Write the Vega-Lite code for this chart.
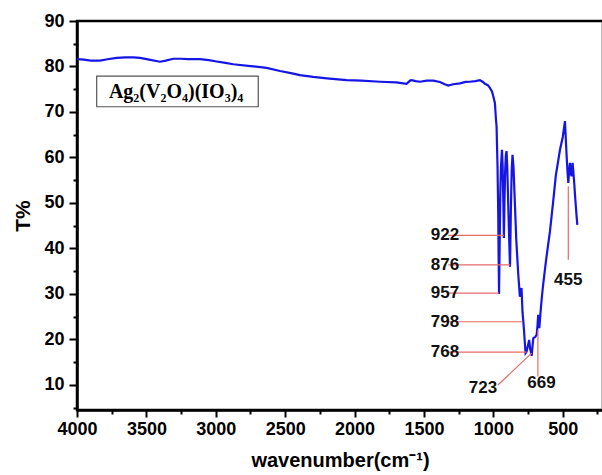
{
  "$schema": "https://vega.github.io/schema/vega-lite/v6.json",
  "width": 526,
  "height": 389,
  "autosize": {"type": "none"},
  "padding": {"left": 77, "top": 21, "right": 0, "bottom": 65},
  "background": "white",
  "config": {
    "view": {"stroke": "black", "strokeWidth": 2.5},
    "axis": {
      "labelFont": "Liberation Sans", "labelFontWeight": "bold", "labelFontSize": 18, "labelColor": "black",
      "titleFont": "Liberation Sans", "titleFontWeight": "bold", "titleColor": "black",
      "domainColor": "black", "domainWidth": 2.5, "tickColor": "black", "tickWidth": 2, "grid": false
    }
  },
  "datasets": {
    "spectrum": [
      {"wn": 4000, "t": 81.6}, {"wn": 3950, "t": 81.5}, {"wn": 3900, "t": 81.3}, {"wn": 3834, "t": 81.3},
      {"wn": 3780, "t": 81.6}, {"wn": 3714, "t": 81.9}, {"wn": 3650, "t": 82.0}, {"wn": 3594, "t": 82.0},
      {"wn": 3546, "t": 81.9}, {"wn": 3480, "t": 81.5}, {"wn": 3402, "t": 81.05}, {"wn": 3360, "t": 81.3},
      {"wn": 3306, "t": 81.7}, {"wn": 3250, "t": 81.7}, {"wn": 3200, "t": 81.6}, {"wn": 3114, "t": 81.6},
      {"wn": 3050, "t": 81.4}, {"wn": 2994, "t": 81.1}, {"wn": 2930, "t": 80.8}, {"wn": 2874, "t": 80.5},
      {"wn": 2750, "t": 80.1}, {"wn": 2634, "t": 79.7}, {"wn": 2537, "t": 79.0}, {"wn": 2450, "t": 78.5},
      {"wn": 2394, "t": 78.1}, {"wn": 2298, "t": 77.7}, {"wn": 2200, "t": 77.4}, {"wn": 2057, "t": 77.0},
      {"wn": 1950, "t": 76.9}, {"wn": 1817, "t": 76.65}, {"wn": 1700, "t": 76.5}, {"wn": 1625, "t": 76.2},
      {"wn": 1600, "t": 76.9}, {"wn": 1589, "t": 77.0}, {"wn": 1560, "t": 76.8}, {"wn": 1529, "t": 76.65}, {"wn": 1480, "t": 76.9},
      {"wn": 1433, "t": 76.9}, {"wn": 1385, "t": 76.6}, {"wn": 1350, "t": 76.1}, {"wn": 1325, "t": 75.8},
      {"wn": 1290, "t": 76.1}, {"wn": 1241, "t": 76.3}, {"wn": 1200, "t": 76.6}, {"wn": 1169, "t": 76.65},
      {"wn": 1130, "t": 76.8}, {"wn": 1097, "t": 77.0}, {"wn": 1075, "t": 76.6}, {"wn": 1061, "t": 76.2},
      {"wn": 1040, "t": 75.9}, {"wn": 1025, "t": 75.3}, {"wn": 1010, "t": 74.5}, {"wn": 1001, "t": 73.5},
      {"wn": 989, "t": 72.0}, {"wn": 981, "t": 68.3}, {"wn": 977, "t": 66.9}, {"wn": 970, "t": 58.0},
      {"wn": 965, "t": 48.0}, {"wn": 962, "t": 38.0}, {"wn": 959, "t": 30.0}, {"wn": 955, "t": 40.0},
      {"wn": 950, "t": 52.0}, {"wn": 945, "t": 58.0}, {"wn": 938, "t": 61.7}, {"wn": 933, "t": 58.0},
      {"wn": 928, "t": 50.0}, {"wn": 924, "t": 42.3}, {"wn": 920, "t": 50.0}, {"wn": 915, "t": 57.0},
      {"wn": 910, "t": 60.5}, {"wn": 905, "t": 61.4}, {"wn": 900, "t": 58.0}, {"wn": 893, "t": 50.0},
      {"wn": 886, "t": 42.0}, {"wn": 880, "t": 36.0}, {"wn": 874, "t": 48.0}, {"wn": 868, "t": 57.0},
      {"wn": 862, "t": 60.6}, {"wn": 855, "t": 58.0}, {"wn": 845, "t": 50.0}, {"wn": 835, "t": 42.0},
      {"wn": 822, "t": 35.0}, {"wn": 809, "t": 29.4}, {"wn": 800, "t": 30.9}, {"wn": 797, "t": 31.3},
      {"wn": 790, "t": 26.0}, {"wn": 785, "t": 24.3}, {"wn": 778, "t": 21.5}, {"wn": 773, "t": 19.2},
      {"wn": 768, "t": 17.0}, {"wn": 761, "t": 17.3}, {"wn": 752, "t": 18.5}, {"wn": 742, "t": 19.9},
      {"wn": 735, "t": 18.0}, {"wn": 728, "t": 17.0}, {"wn": 724, "t": 16.4}, {"wn": 718, "t": 18.5},
      {"wn": 712, "t": 20.3}, {"wn": 700, "t": 20.5}, {"wn": 688, "t": 21.0}, {"wn": 682, "t": 23.0},
      {"wn": 677, "t": 25.4}, {"wn": 672, "t": 23.0}, {"wn": 669, "t": 22.5}, {"wn": 660, "t": 26.0},
      {"wn": 650, "t": 29.5}, {"wn": 640, "t": 32.4}, {"wn": 620, "t": 37.5}, {"wn": 600, "t": 42.0},
      {"wn": 592, "t": 43.8}, {"wn": 570, "t": 50.0}, {"wn": 550, "t": 56.0}, {"wn": 520, "t": 61.7},
      {"wn": 500, "t": 64.5}, {"wn": 484, "t": 68.0}, {"wn": 478, "t": 64.0}, {"wn": 472, "t": 60.3},
      {"wn": 466, "t": 57.0}, {"wn": 460, "t": 54.4}, {"wn": 454, "t": 57.0}, {"wn": 448, "t": 58.8},
      {"wn": 442, "t": 56.5}, {"wn": 436, "t": 55.9}, {"wn": 432, "t": 57.5}, {"wn": 429, "t": 58.8},
      {"wn": 424, "t": 57.0}, {"wn": 419, "t": 55.1}, {"wn": 410, "t": 51.0}, {"wn": 400, "t": 47.0},
      {"wn": 395, "t": 45.2}
    ],
    "leaders": [
      {"x1": 1325, "x2": 924, "y1": 42.9, "y2": 42.9},
      {"x1": 1325, "x2": 878, "y1": 36.4, "y2": 36.4},
      {"x1": 1325, "x2": 960, "y1": 30.2, "y2": 30.2},
      {"x1": 1325, "x2": 790, "y1": 23.9, "y2": 23.9},
      {"x1": 1325, "x2": 761, "y1": 17.2, "y2": 17.2},
      {"x1": 967, "x2": 724, "y1": 10.0, "y2": 17.0},
      {"x1": 679, "x2": 679, "y1": 11.8, "y2": 22.1},
      {"x1": 460, "x2": 460, "y1": 37.5, "y2": 53.7}
    ],
    "labels": [
      {"wn": 1349, "t": 42.9, "label": "922", "pos": "left"},
      {"wn": 1349, "t": 36.4, "label": "876", "pos": "left"},
      {"wn": 1349, "t": 30.2, "label": "957", "pos": "left"},
      {"wn": 1349, "t": 23.9, "label": "798", "pos": "left"},
      {"wn": 1349, "t": 17.2, "label": "768", "pos": "left"},
      {"wn": 1075, "t": 9.4, "label": "723", "pos": "center"},
      {"wn": 653, "t": 10.4, "label": "669", "pos": "center"},
      {"wn": 460, "t": 33.1, "label": "455", "pos": "center"}
    ],
    "box": [{"x1": 3858, "x2": 2694, "y1": 77.9, "y2": 71.15, "wn": 3286, "t": 74.4, "name": "Ag₂(V₂O₄)(IO₃)₄"}]
  },
  "layer": [
    {
      "data": {"name": "spectrum"},
      "mark": {"type": "line", "color": "#1515e6", "strokeWidth": 2.2, "clip": true},
      "encoding": {
        "x": {"field": "wn", "type": "quantitative", "sort": null,
              "scale": {"domain": [210, 4000], "reverse": true, "nice": false, "zero": false},
              "axis": {"orient": "bottom", "format": "d",
                       "values": [4000,3500,3000,2500,2000,1500,1000,500],
                       "tickSize": 7, "labelPadding": 3, "labelFlush": false, "labelOverlap": false,
                       "title": "wavenumber(cm⁻¹)", "titleFontSize": 20, "titlePadding": 12}},
        "y": {"field": "t", "type": "quantitative",
              "scale": {"domain": [4.5, 90], "nice": false, "zero": false},
              "axis": {"orient": "left", "format": "d",
                       "values": [10,20,30,40,50,60,70,80,90],
                       "tickSize": 8, "labelPadding": 5, "labelOverlap": false, "labelFlush": false,
                       "title": "T%", "titleFontSize": 21, "titlePadding": 10}}
      }
    },
    {
      "data": {"name": "box"},
      "mark": {"type": "rect", "fill": "white", "stroke": "#555555", "strokeWidth": 1.2},
      "encoding": {
        "x": {"field": "x1", "type": "quantitative",
              "axis": {"orient": "bottom", "values": [3750,3250,2750,2250,1750,1250,750,250],
                       "tickSize": 4, "labels": false, "domain": false, "title": null}},
        "x2": {"field": "x2"},
        "y": {"field": "y1", "type": "quantitative",
              "axis": {"orient": "left", "values": [5,15,25,35,45,55,65,75,85],
                       "tickSize": 4, "labels": false, "domain": false, "title": null}},
        "y2": {"field": "y2"}
      }
    },
    {
      "data": {"name": "box"},
      "mark": {"type": "text", "font": "Liberation Serif", "fontWeight": "bold", "fontSize": 20, "color": "black", "align": "center", "baseline": "middle"},
      "encoding": {
        "x": {"field": "wn", "type": "quantitative", "axis": null},
        "y": {"field": "t", "type": "quantitative", "axis": null},
        "text": {"field": "name"}
      }
    },
    {
      "data": {"name": "leaders"},
      "mark": {"type": "rule", "color": "#e86a6a", "strokeWidth": 1.2},
      "encoding": {
        "x": {"field": "x1", "type": "quantitative", "axis": null},
        "x2": {"field": "x2"},
        "y": {"field": "y1", "type": "quantitative", "axis": null},
        "y2": {"field": "y2"}
      }
    },
    {
      "data": {"name": "labels"},
      "mark": {"type": "text", "font": "Liberation Sans", "fontWeight": "bold", "fontSize": 17, "color": "#111111", "baseline": "middle"},
      "encoding": {
        "x": {"field": "wn", "type": "quantitative", "axis": null},
        "y": {"field": "t", "type": "quantitative", "axis": null},
        "text": {"field": "label"},
        "align": {"condition": {"test": "datum.pos === 'left'", "value": "right"}, "value": "center"}
      }
    }
  ],
  "resolve": {"axis": {"x": "independent", "y": "independent"}}
}
